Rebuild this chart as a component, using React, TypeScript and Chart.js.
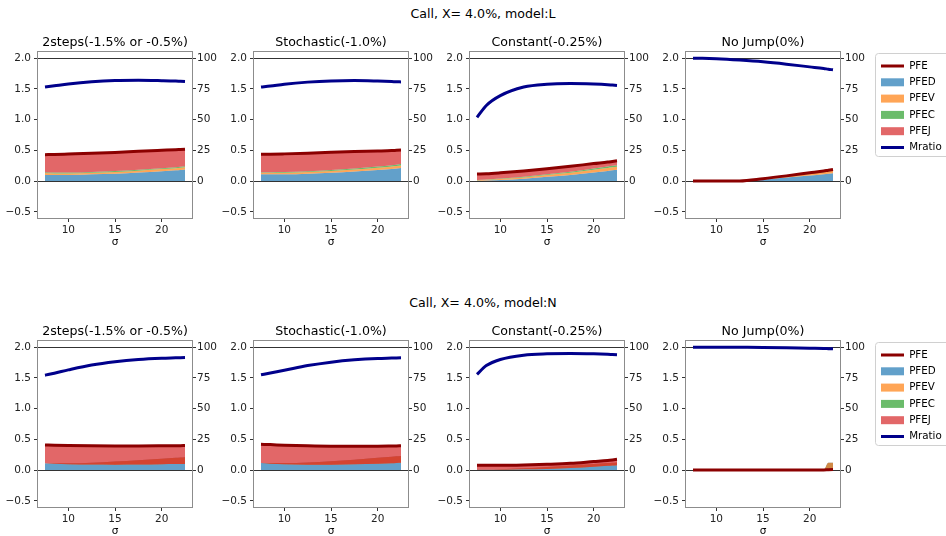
import React, { useEffect, useRef } from "react";
import { Chart, registerables } from "chart.js";

Chart.register(...registerables);
Chart.defaults.font.family = "'DejaVu Sans', sans-serif";

// ---------- data ----------
const SIGMA = [7.5, 8.5, 10, 12.5, 15, 17.5, 20, 21.5, 22, 22.5];
const X_TICKS = [10, 15, 20];
const Y_TICKS = [-0.5, 0, 0.5, 1, 1.5, 2];
const Y2_TICKS = [0, 25, 50, 75, 100];
const PANEL_TITLES = ["2steps(-1.5% or -0.5%)", "Stochastic(-1.0%)", "Constant(-0.25%)", "No Jump(0%)"];
const ROW_TITLES = ["Call, X= 4.0%, model:L", "Call, X= 4.0%, model:N"];
const SERIES_LABELS = ["PFE", "PFED", "PFEV", "PFEC", "PFEJ", "Mratio"];

// model L
const L1_PFE = [0.43, 0.433, 0.44, 0.452, 0.467, 0.485, 0.502, 0.512, 0.516, 0.52];
const L1_PFED = [0.1, 0.1, 0.1, 0.11, 0.12, 0.14, 0.16, 0.175, 0.182, 0.19];
const L1_PFEV = [0.03, 0.025, 0.025, 0.025, 0.03, 0.03, 0.035, 0.035, 0.035, 0.035];
const L1_PFEC = [0.015, 0.015, 0.015, 0.015, 0.015, 0.015, 0.015, 0.015, 0.015, 0.015];
const L1_PFEJ = [0.285, 0.293, 0.3, 0.302, 0.302, 0.3, 0.292, 0.287, 0.284, 0.28];
const L1_MRATIO = [76.5, 77.5, 79, 80.8, 81.8, 82, 81.7, 81.4, 81.2, 81];

const L2_PFE = [0.435, 0.437, 0.443, 0.455, 0.468, 0.48, 0.49, 0.497, 0.501, 0.505];
const L2_PFED = [0.11, 0.11, 0.11, 0.12, 0.135, 0.155, 0.18, 0.197, 0.206, 0.215];
const L2_PFEV = [0.025, 0.025, 0.025, 0.028, 0.03, 0.033, 0.037, 0.039, 0.04, 0.04];
const L2_PFEC = [0.01, 0.01, 0.012, 0.013, 0.015, 0.017, 0.02, 0.021, 0.021, 0.022];
const L2_PFEJ = [0.29, 0.292, 0.296, 0.294, 0.288, 0.275, 0.253, 0.24, 0.234, 0.228];
const L2_MRATIO = [76.5, 77.3, 78.8, 80.5, 81.5, 81.8, 81.4, 81, 80.8, 80.7];

const L3_PFE = [0.115, 0.12, 0.135, 0.165, 0.2, 0.24, 0.285, 0.31, 0.32, 0.33];
const L3_PFED = [0.005, 0.01, 0.02, 0.04, 0.07, 0.1, 0.14, 0.165, 0.175, 0.185];
const L3_PFEV = [0.01, 0.012, 0.015, 0.02, 0.03, 0.035, 0.045, 0.048, 0.049, 0.05];
const L3_PFEC = [0.005, 0.006, 0.008, 0.01, 0.013, 0.017, 0.02, 0.023, 0.024, 0.025];
const L3_PFEJ = [0.095, 0.092, 0.092, 0.095, 0.087, 0.088, 0.08, 0.074, 0.072, 0.07];
const L3_MRATIO = [51.8, 61.5, 69.5, 76.5, 78.8, 79.3, 78.9, 78.4, 78.1, 77.8];

const L4_PFE = [0, 0, 0, 0.003, 0.04, 0.085, 0.135, 0.165, 0.178, 0.19];
const L4_PFED = [0, 0, 0, 0.002, 0.028, 0.058, 0.092, 0.112, 0.12, 0.128];
const L4_PFEV = [0, 0, 0, 0.001, 0.008, 0.017, 0.027, 0.034, 0.037, 0.04];
const L4_PFEC = [0, 0, 0, 0, 0.002, 0.005, 0.008, 0.01, 0.011, 0.012];
const L4_PFEJ = [0, 0, 0, 0, 0.002, 0.005, 0.008, 0.009, 0.01, 0.01];
const L4_MRATIO = [100, 99.9, 99.5, 98.4, 97, 95.1, 92.9, 91.6, 91.0, 90.5];

// model N
const N1_PFE = [0.41, 0.405, 0.4, 0.395, 0.393, 0.393, 0.395, 0.397, 0.398, 0.4];
const N1_PFED = [0.11, 0.11, 0.11, 0.12, 0.14, 0.16, 0.185, 0.2, 0.205, 0.21];
const N1_PFEV = [0, -0.005, -0.015, -0.03, -0.052, -0.07, -0.09, -0.102, -0.106, -0.11];
const N1_PFEC = [0, 0, 0, 0, 0, 0, 0, 0, 0, 0];
const N1_PFEJ = [0.3, 0.3, 0.305, 0.305, 0.305, 0.303, 0.3, 0.299, 0.299, 0.3];
const N1_MRATIO = [77.2, 78.8, 81.5, 85.5, 88.2, 90, 91, 91.3, 91.4, 91.5];

const N2_PFE = [0.42, 0.415, 0.405, 0.395, 0.39, 0.39, 0.39, 0.392, 0.393, 0.395];
const N2_PFED = [0.115, 0.115, 0.115, 0.125, 0.145, 0.17, 0.2, 0.217, 0.224, 0.23];
const N2_PFEV = [0, -0.01, -0.02, -0.037, -0.057, -0.075, -0.095, -0.104, -0.107, -0.11];
const N2_PFEC = [0, 0, 0, 0, 0, 0, 0, 0, 0, 0];
const N2_PFEJ = [0.305, 0.31, 0.31, 0.307, 0.302, 0.295, 0.285, 0.279, 0.276, 0.275];
const N2_MRATIO = [77.5, 79, 81.2, 85, 87.8, 89.7, 90.8, 91.1, 91.2, 91.3];

const N3_PFE = [0.08, 0.08, 0.08, 0.085, 0.095, 0.11, 0.14, 0.158, 0.166, 0.175];
const N3_PFED = [0.01, 0.01, 0.015, 0.03, 0.05, 0.075, 0.1, 0.115, 0.12, 0.125];
const N3_PFEV = [-0.005, -0.005, -0.008, -0.018, -0.03, -0.04, -0.045, -0.045, -0.045, -0.045];
const N3_PFEC = [0, 0, 0, 0, 0, 0, 0, 0, 0, 0];
const N3_PFEJ = [0.075, 0.075, 0.073, 0.073, 0.075, 0.075, 0.085, 0.088, 0.091, 0.095];
const N3_MRATIO = [77.8, 85, 90, 93.5, 94.6, 94.9, 94.6, 94.2, 94.0, 93.8];

const N4_PFE = [0, 0, 0, 0, 0, 0, 0, 0.002, 0.006, 0.01];
const N4_PFED = [0, 0, 0, 0, 0, 0, 0, 0, 0.12, 0.12];
const N4_PFEV = [0, 0, 0, 0, 0, 0, 0, 0, -0.114, -0.11];
const N4_PFEC = [0, 0, 0, 0, 0, 0, 0, 0, 0, 0];
const N4_PFEJ = [0, 0, 0, 0, 0, 0, 0, 0, 0, 0];
const N4_MRATIO = [100, 100, 100, 99.9, 99.8, 99.5, 99.1, 98.9, 98.75, 98.6];

const ROWS = [
  [
    [L1_PFE, L1_PFED, L1_PFEV, L1_PFEC, L1_PFEJ, L1_MRATIO],
    [L2_PFE, L2_PFED, L2_PFEV, L2_PFEC, L2_PFEJ, L2_MRATIO],
    [L3_PFE, L3_PFED, L3_PFEV, L3_PFEC, L3_PFEJ, L3_MRATIO],
    [L4_PFE, L4_PFED, L4_PFEV, L4_PFEC, L4_PFEJ, L4_MRATIO],
  ],
  [
    [N1_PFE, N1_PFED, N1_PFEV, N1_PFEC, N1_PFEJ, N1_MRATIO],
    [N2_PFE, N2_PFED, N2_PFEV, N2_PFEC, N2_PFEJ, N2_MRATIO],
    [N3_PFE, N3_PFED, N3_PFEV, N3_PFEC, N3_PFEJ, N3_MRATIO],
    [N4_PFE, N4_PFED, N4_PFEV, N4_PFEC, N4_PFEJ, N4_MRATIO],
  ],
];

// ---------- style ----------
const AREA_COLORS = [
  "rgba(31,119,180,0.7)",
  "rgba(255,127,14,0.7)",
  "rgba(44,160,44,0.7)",
  "rgba(214,39,40,0.7)",
];
const PFE_COLOR = "#8b0000";
const MRATIO_COLOR = "#00008b";
const PLOT_LEFTS = [38, 254, 470, 686];
const PLOT_TOPS = [52, 341];
const PLOT_W = 154;
const PLOT_H = 166;
const Y_AXIS_W = 44;
const Y2_AXIS_W = 35;
const TITLE_H = 26;
const X_AXIS_H = 34;
const LEGEND_W = 71;

const fmtLeft = (v: number) => v.toFixed(1).replace("-", "\u2212");

const framePlugin = {
  id: "frame",
  afterDatasetsDraw(chart: any) {
    const { ctx, chartArea: a } = chart;
    ctx.save();
    ctx.strokeStyle = "#8c8c8c";
    ctx.lineWidth = 1;
    ctx.strokeRect(a.left - 0.5, a.top - 0.5, a.right - a.left + 1, a.bottom - a.top + 1);
    ctx.restore();
  },
};

const legendFramePlugin = {
  id: "legendFrame",
  beforeDraw(chart: any) {
    const lg = chart.legend;
    if (!lg || !chart.options.plugins.legend.display) return;
    const { ctx, chartArea: a } = chart;
    const x = lg.left + 0.5;
    const y = a.top + 1.5;
    const w = chart.width + 10 - x;
    const h = 103;
    const r = 3;
    ctx.save();
    ctx.beginPath();
    ctx.moveTo(x + r, y);
    ctx.lineTo(x + w, y);
    ctx.lineTo(x + w, y + h);
    ctx.lineTo(x + r, y + h);
    ctx.arcTo(x, y + h, x, y + h - r, r);
    ctx.lineTo(x, y + r);
    ctx.arcTo(x, y, x + r, y, r);
    ctx.closePath();
    ctx.fillStyle = "rgba(255,255,255,0.8)";
    ctx.fill();
    ctx.strokeStyle = "#d0d0d0";
    ctx.lineWidth = 1;
    ctx.stroke();
    ctx.restore();
  },
};

function Panel({ row, col }: { row: number; col: number }) {
  const ref = useRef<HTMLCanvasElement | null>(null);
  const isLast = col === 3;
  const width = Y_AXIS_W + PLOT_W + Y2_AXIS_W + (isLast ? LEGEND_W : 0);
  const height = TITLE_H + PLOT_H + X_AXIS_H;
  useEffect(() => {
    const series = ROWS[row][col];
    const [pfe, ...rest] = series;
    const areas = rest.slice(0, 4);
    const mratio = rest[4];
    const pts = (arr: number[]) => SIGMA.map((x, i) => ({ x, y: arr[i] }));
    // cumulative layer tops (stackplot)
    const tops: number[][] = [];
    let acc = SIGMA.map(() => 0);
    areas.forEach((a) => {
      acc = acc.map((v, i) => v + a[i]);
      tops.push(acc);
    });
    const common = { pointRadius: 0, pointHoverRadius: 0, cubicInterpolationMode: "monotone" as const };
    const datasets: any[] = [
      {
        label: SERIES_LABELS[0], data: pts(pfe), borderColor: PFE_COLOR, backgroundColor: PFE_COLOR,
        borderWidth: 3, fill: false, order: 1, yAxisID: "y", pointStyle: "line", ...common,
      },
      ...tops.map((t, k) => ({
        label: SERIES_LABELS[k + 1], data: pts(t), borderColor: "rgba(0,0,0,0)", backgroundColor: AREA_COLORS[k],
        borderWidth: 0, fill: k === 0 ? "origin" : k, order: 5 - k, yAxisID: "y", pointStyle: "rect", ...common,
      })),
      {
        label: SERIES_LABELS[5], data: pts(mratio), borderColor: MRATIO_COLOR, backgroundColor: MRATIO_COLOR,
        borderWidth: 3, fill: false, order: 0, yAxisID: "y1", pointStyle: "line", ...common,
      },
    ];
    const tickFont = { size: 10.5 };
    const chart = new Chart(ref.current as HTMLCanvasElement, {
      type: "line",
      data: { datasets },
      plugins: [framePlugin, legendFramePlugin],
      options: {
        animation: false,
        responsive: false,
        events: [],
        layout: { padding: 0 },
        plugins: {
          tooltip: { enabled: false },
          title: {
            display: true, text: PANEL_TITLES[col], fullSize: false, color: "#000",
            font: { size: 12.6, weight: "normal", lineHeight: 1.2 }, padding: { top: 9.5, bottom: 1.38 },
          },
          legend: {
            display: isLast, position: "right", align: "start", maxWidth: LEGEND_W,
            title: { display: true, text: "", padding: { top: 16.85, bottom: 0 }, font: { size: 10, lineHeight: 1.2 } },
            labels: {
              usePointStyle: true, pointStyleWidth: 23, boxHeight: 8, padding: 6, color: "#000",
              font: { size: 10.3 }, sort: (a: any, b: any) => a.datasetIndex - b.datasetIndex,
            },
          },
        },
        scales: {
          x: {
            type: "linear", min: 6.75, max: 23.25,
            afterBuildTicks: (s: any) => { s.ticks = X_TICKS.map((value) => ({ value })); },
            afterFit: (s: any) => { s.height = X_AXIS_H; },
            grid: { drawOnChartArea: false, drawTicks: true, tickLength: 4, tickColor: "#333" },
            border: { display: false },
            ticks: { autoSkip: false, maxRotation: 0, padding: 2, color: "#222", font: tickFont },
            title: { display: true, text: "\u03c3", color: "#000", font: { size: 10.5, lineHeight: 1.2 }, padding: { top: 0, bottom: 3 } },
          },
          y: {
            type: "linear", position: "left", min: -0.6, max: 2.1,
            afterBuildTicks: (s: any) => { s.ticks = Y_TICKS.map((value) => ({ value })); },
            afterFit: (s: any) => { s.width = Y_AXIS_W; },
            grid: {
              drawTicks: true, tickLength: 4, tickColor: "#333", lineWidth: 1,
              color: (c: any) => (c.tick && (c.tick.value === 0 || c.tick.value === 2) ? "#333" : "rgba(0,0,0,0)"),
            },
            border: { display: false },
            ticks: { autoSkip: false, padding: 3, color: "#222", font: tickFont, callback: (v: any) => fmtLeft(Number(v)) },
          },
          y1: {
            type: "linear", position: "right", min: -30, max: 105,
            afterBuildTicks: (s: any) => { s.ticks = Y2_TICKS.map((value) => ({ value })); },
            afterFit: (s: any) => { s.width = Y2_AXIS_W; },
            grid: { drawOnChartArea: false, drawTicks: true, tickLength: 4, tickColor: "#333" },
            border: { display: false },
            ticks: { autoSkip: false, padding: 1, color: "#222", font: tickFont, callback: (v: any) => String(v) },
          },
        },
      } as any,
    });
    return () => chart.destroy();
  }, [row, col]);
  return (
    <canvas
      ref={ref}
      width={width}
      height={height}
      style={{
        position: "absolute",
        left: PLOT_LEFTS[col] - Y_AXIS_W,
        top: PLOT_TOPS[row] - TITLE_H,
        width,
        height,
      }}
    />
  );
}

export default function App() {
  return (
    <div
      style={{
        position: "fixed", left: 0, top: 0, width: 946, height: 536, overflow: "hidden",
        background: "#fff", fontFamily: "'DejaVu Sans', sans-serif",
      }}
    >
      {ROW_TITLES.map((t, r) => (
        <div
          key={t}
          style={{
            position: "absolute", left: 483, top: r === 0 ? 6 : 295, transform: "translateX(-50%)",
            fontSize: 12.6, lineHeight: "15px", whiteSpace: "nowrap", color: "#000",
          }}
        >
          {t}
        </div>
      ))}
      {[0, 1].map((r) => [0, 1, 2, 3].map((c) => <Panel key={`${r}-${c}`} row={r} col={c} />))}
    </div>
  );
}
